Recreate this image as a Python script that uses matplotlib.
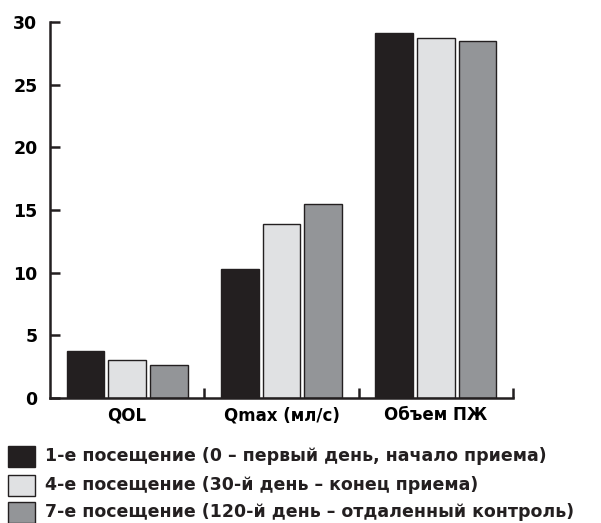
import matplotlib
matplotlib.use("Agg")
import matplotlib.pyplot as plt
from matplotlib.patches import Rectangle

categories = ["QOL", "Qmax (мл/с)", "Объем ПЖ"]
series_labels = [
    "1-е посещение (0 – первый день, начало приема)",
    "4-е посещение (30-й день – конец приема)",
    "7-е посещение (120-й день – отдаленный контроль)",
]
visit1 = [3.75, 10.3, 29.15]
visit4 = [3.03, 13.85, 28.7]
visit7 = [2.63, 15.45, 28.5]
yticks = [0, 5, 10, 15, 20, 25, 30]

colors = ["#231f20", "#e0e1e3", "#939598"]
edge = "#231f20"
font = "DejaVu Sans"

fig = plt.figure(figsize=(6.01, 5.23), dpi=100)
ax = fig.add_axes([50/601, 1-398/523, (513-50)/601, (398-22)/523])

centers = [0.5, 1.5, 2.5]
offsets = [-0.27, 0.0, 0.27]
width = 0.245
for vals, off, c in zip([visit1, visit4, visit7], offsets, colors):
    ax.bar([x + off for x in centers], vals, width=width, color=c,
           edgecolor=edge, linewidth=1.0, zorder=2)

ax.set_xlim(0, 3)
ax.set_ylim(0, 30)
for s in ["top", "right"]:
    ax.spines[s].set_visible(False)
for s in ["left", "bottom"]:
    ax.spines[s].set_linewidth(1.8)
    ax.spines[s].set_color(edge)
    ax.spines[s].set_zorder(3)

ax.set_yticks(yticks)
ax.set_yticklabels([str(v) for v in yticks], fontfamily=font, fontweight="bold", fontsize=12.5)
ax.tick_params(axis="y", direction="in", length=7, width=1.8, color=edge, pad=9)

ax.set_xticks(centers)
ax.set_xticklabels(categories, fontfamily=font, fontweight="bold", fontsize=12)
ax.tick_params(axis="x", which="major", length=0, pad=6)
ax.set_xticks([1, 2, 3], minor=True)
ax.tick_params(axis="x", which="minor", direction="in", length=7, width=1.8, color=edge)

# legend
rows_y = [456, 485, 512]
for lab, c, y in zip(series_labels, colors, rows_y):
    fig.patches.append(Rectangle((8/601, 1-(y+10.5)/523), 27/601, 21/523,
                                 transform=fig.transFigure, facecolor=c,
                                 edgecolor=edge, linewidth=1.0))
    fig.text(45/601, 1-y/523, lab, fontfamily=font, fontweight="bold",
             fontsize=12.5, va="center", ha="left", color=edge)

fig.savefig("out.png", dpi=100)
